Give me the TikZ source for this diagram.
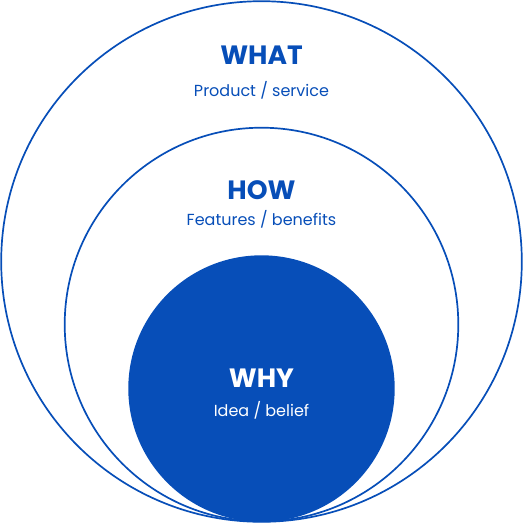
\documentclass[tikz,border=0pt]{standalone}
\usepackage{fontspec}
\setmainfont{Poppins}
\usepackage{xcolor}
\usepackage{tikz}
\usetikzlibrary{positioning}

\definecolor{goldblue}{RGB}{7,78,184}

\begin{document}
\begin{tikzpicture}[x=1pt, y=-1pt, thick]
    \useasboundingbox (0,0) rectangle (523,523);
    % Circles
    \draw[goldblue, line width=1.7pt] (261.5,261.5) circle (260.3);
    \draw[goldblue, line width=1.7pt] (261.5,324.5) circle (196.8);
    \fill[goldblue] (261.5,388.5) circle (133.2);

    % Labels
    \node (what) at (261.5,55) [goldblue, font=\fontsize{26.5}{28}\selectfont\bfseries] {WHAT};
    \node (whatsub) at (261.5,90) [goldblue, font=\fontsize{16}{18}\selectfont] {Product / service};
    \node (how) at (261.5,190) [goldblue, font=\fontsize{26.5}{28}\selectfont\bfseries] {HOW};
    \node (howsub) at (261.5,219) [goldblue, font=\fontsize{16}{18}\selectfont] {Features / benefits};
    \node (why) at (261.5,378) [white, font=\fontsize{26.5}{28}\selectfont\bfseries] {WHY};
    \node (whysub) at (261.5,410) [white, font=\fontsize{16}{18}\selectfont] {Idea / belief};

\end{tikzpicture}
\end{document}
